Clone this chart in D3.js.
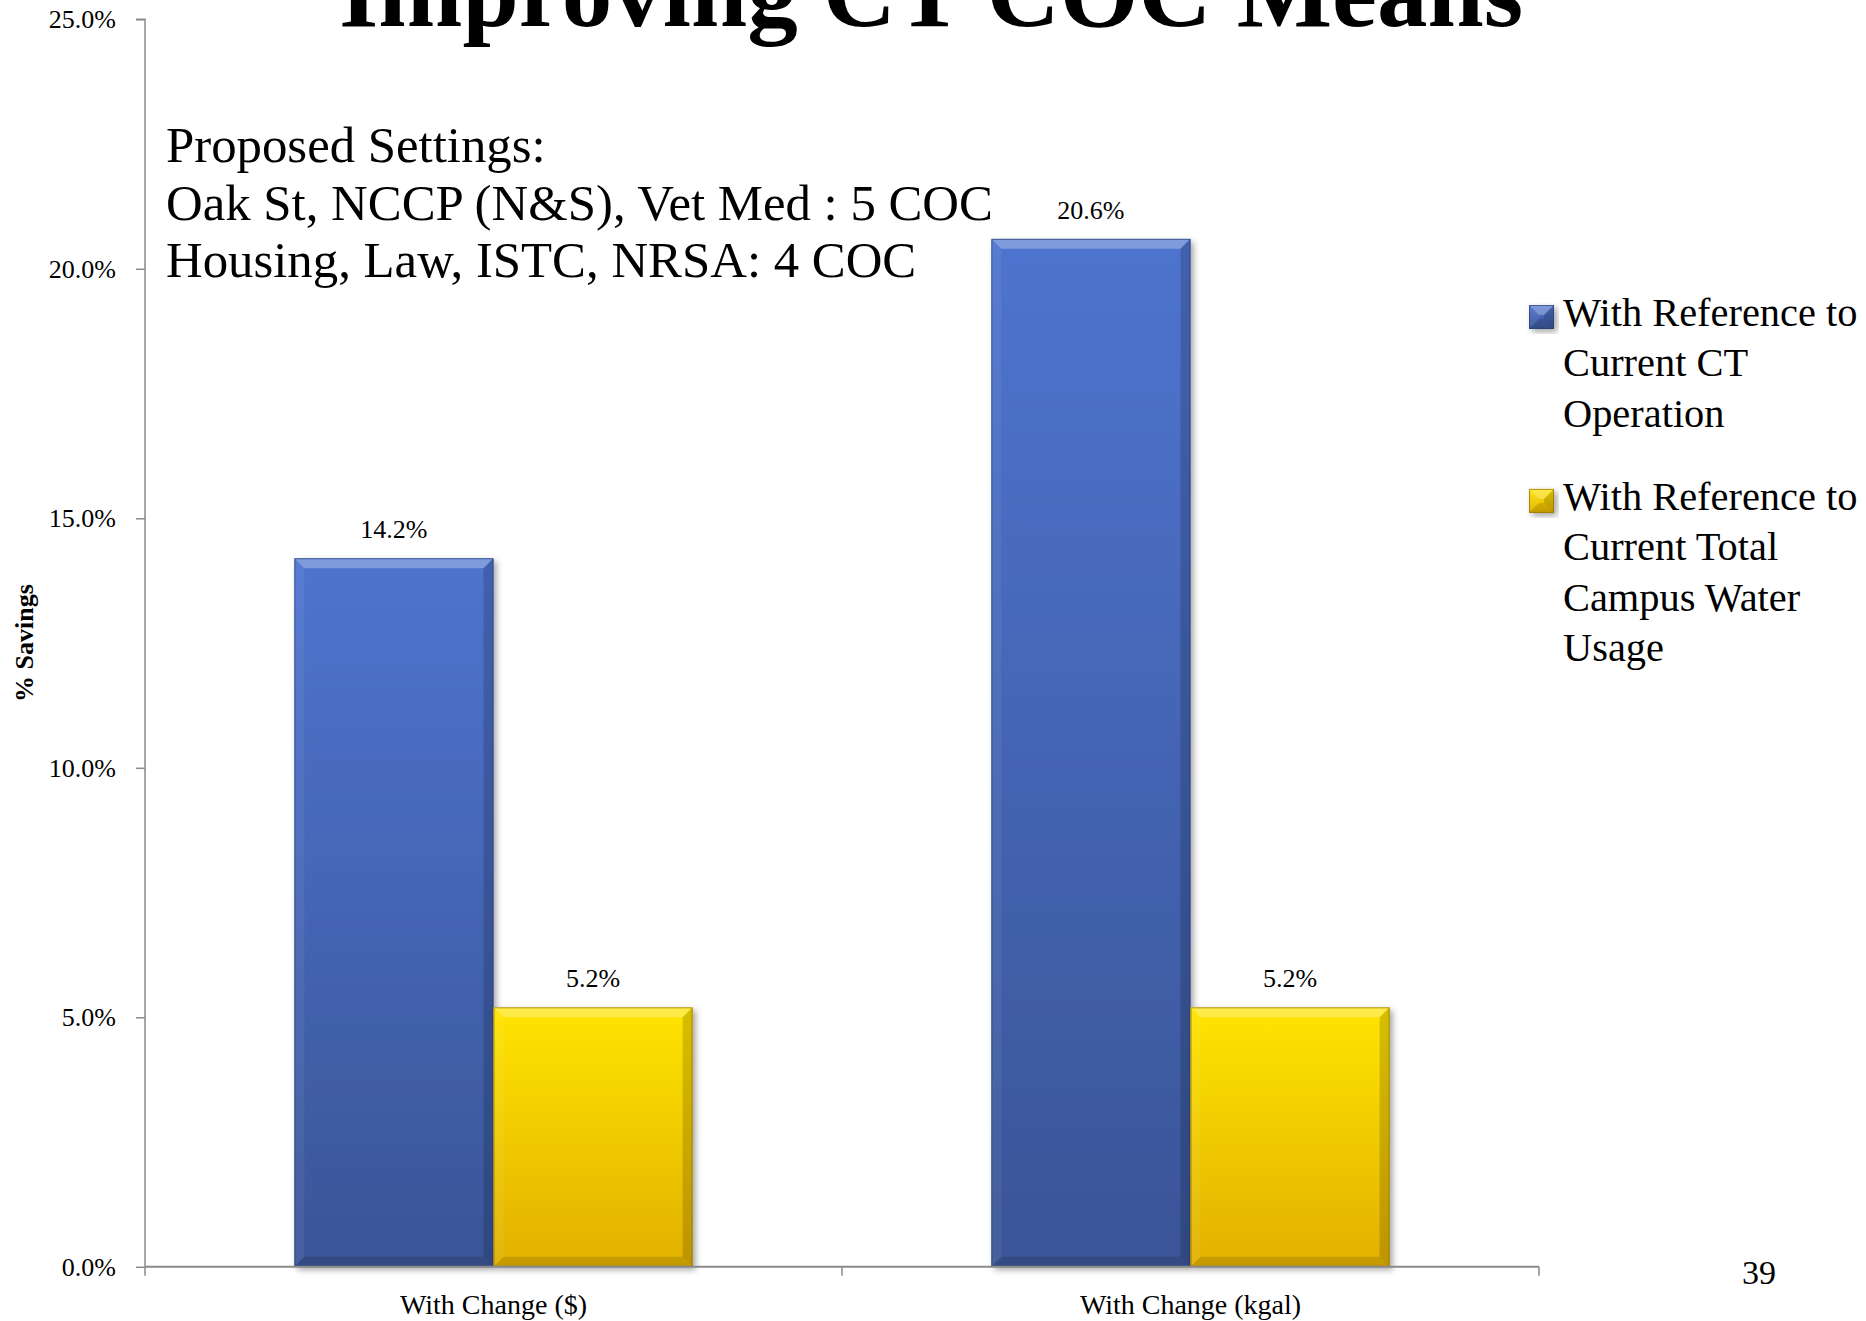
<!DOCTYPE html>
<html>
<head>
<meta charset="utf-8">
<script src="https://cdn.jsdelivr.net/npm/d3@7"></script>
<style>
  html, body { margin: 0; padding: 0; background: #fff; overflow: hidden; }
  svg { display: block; }
  text { font-family: "Liberation Serif", "Times New Roman", serif; fill: #000; }
</style>
</head>
<body>
<svg id="chart" width="1866" height="1321"></svg>
<script>
// ---- data ----
const categories = ["With Change ($)", "With Change (kgal)"];
const seriesNames = ["With Reference to Current CT Operation",
                     "With Reference to Current Total Campus Water Usage"];
const ctOperationSavings = [14.2, 20.6];
const campusWaterSavings = [5.2, 5.2];
const yTickValues = [0, 5, 10, 15, 20, 25];
const legendLines = [
  ["With Reference to", "Current CT", "Operation"],
  ["With Reference to", "Current Total", "Campus Water", "Usage"]
];
const noteLines = ["Proposed Settings:",
                   "Oak St, NCCP (N&S), Vet Med : 5 COC",
                   "Housing, Law, ISTC, NRSA: 4 COC"];
const titleText = "Improving CT COC Means";
const yAxisTitle = "% Savings";
const pageNumber = "39";

const seriesValues = [ctOperationSavings, campusWaterSavings];
const palettes = [
  { top: "#4e74cf", bottom: "#3a5597", edge: "#2a407c" },
  { top: "#ffe400", bottom: "#e1b004", edge: "#8f6f00" }
];

const svg = d3.select("#chart");
const plot = { left: 145, right: 1539, top: 19.3, bottom: 1266.8 };

// ---- defs: gradients and shadow ----
const defs = svg.append("defs");
palettes.forEach((p, i) => {
  const g = defs.append("linearGradient").attr("id", "grad" + i)
    .attr("x1", 0).attr("y1", 0).attr("x2", 0).attr("y2", 1);
  g.append("stop").attr("offset", "0%").attr("stop-color", p.top);
  g.append("stop").attr("offset", "100%").attr("stop-color", p.bottom);
});
const f = defs.append("filter").attr("id", "shadow")
  .attr("x", "-10%").attr("y", "-10%").attr("width", "130%").attr("height", "130%");
f.append("feDropShadow").attr("dx", 3).attr("dy", 3).attr("stdDeviation", 3)
  .attr("flood-color", "#000").attr("flood-opacity", 0.35);

// ---- scales ----
const y = d3.scaleLinear().domain([0, 25]).range([plot.bottom, plot.top]);
const x0 = d3.scaleBand().domain(categories).range([plot.left, plot.right])
  .paddingInner(0).paddingOuter(0);
const x1 = d3.scaleBand().domain(d3.range(seriesNames.length))
  .range([0, x0.bandwidth()]).paddingInner(0).paddingOuter(0.75);

// ---- title (runs off the top edge) ----
svg.append("text")
  .attr("x", 339).attr("y", 26)
  .attr("textLength", 1184).attr("lengthAdjust", "spacingAndGlyphs")
  .style("font-size", "100px").style("font-weight", "bold")
  .text(titleText);

// ---- bevelled bar drawing ----
function bevelBar(g, bx, by, bw, bh, si) {
  const p = palettes[si];
  const d = Math.min(10, bw / 2, bh / 2);
  const grp = g.append("g");
  grp.append("rect").attr("x", bx).attr("y", by).attr("width", bw).attr("height", bh)
    .attr("fill", `url(#grad${si})`).attr("filter", "url(#shadow)");
  const poly = (pts, fill, op) => grp.append("polygon")
    .attr("points", pts.map(q => q.join(",")).join(" "))
    .attr("fill", fill).attr("fill-opacity", op);
  poly([[bx, by], [bx + bw, by], [bx + bw - d, by + d], [bx + d, by + d]], "#fff", 0.28);
  poly([[bx, by], [bx + d, by + d], [bx + d, by + bh - d], [bx, by + bh]], "#fff", 0.06);
  poly([[bx + bw, by], [bx + bw, by + bh], [bx + bw - d, by + bh - d], [bx + bw - d, by + d]], "#000", 0.16);
  poly([[bx, by + bh], [bx + d, by + bh - d], [bx + bw - d, by + bh - d], [bx + bw, by + bh]], "#000", 0.12);
  grp.append("rect").attr("x", bx + 0.5).attr("y", by + 0.5)
    .attr("width", bw - 1).attr("height", bh - 1)
    .attr("fill", "none").attr("stroke", p.edge).attr("stroke-opacity", 0.7).attr("stroke-width", 1);
}

// ---- bars and value labels ----
const barsG = svg.append("g");
categories.forEach((cat, ci) => {
  seriesValues.forEach((vals, si) => {
    const v = vals[ci];
    const bx = x0(cat) + x1(si);
    const bw = x1.bandwidth();
    const by = y(v);
    bevelBar(barsG, bx, by, bw, y(0) - by, si);
    svg.append("text")
      .attr("x", bx + bw / 2).attr("y", by - 20)
      .attr("text-anchor", "middle")
      .style("font-size", "26px")
      .text(v.toFixed(1) + "%");
  });
});

// ---- axes ----
const axisColor = "#8a8a8a";
const yAxis = svg.append("g").attr("transform", `translate(${plot.left},0)`)
  .call(d3.axisLeft(y).tickValues(yTickValues).tickSize(9).tickPadding(20)
    .tickFormat(d => d.toFixed(1) + "%"));
yAxis.select(".domain").attr("stroke", axisColor).attr("stroke-width", 1.5)
  .attr("d", `M-9,${plot.top}H0V${plot.bottom}`);
yAxis.selectAll(".tick line").attr("stroke", axisColor).attr("stroke-width", 1.5);
yAxis.selectAll(".tick text")
  .style("font-family", '"Liberation Serif", serif').style("font-size", "26px").attr("fill", "#000");

const xAxis = svg.append("g").attr("transform", `translate(0,${plot.bottom})`)
  .call(d3.axisBottom(x0).tickSize(0).tickPadding(27));
xAxis.select(".domain").attr("stroke", axisColor).attr("stroke-width", 2)
  .attr("d", `M${plot.left},0H${plot.right}`);
xAxis.selectAll(".tick text")
  .style("font-family", '"Liberation Serif", serif').style("font-size", "28px").attr("fill", "#000");
// category boundary ticks
const bounds = [plot.left].concat(categories.map(c => x0(c) + x0.bandwidth()));
xAxis.selectAll(".bound").data(bounds).enter().append("line")
  .attr("x1", d => d).attr("x2", d => d).attr("y1", 0).attr("y2", 9)
  .attr("stroke", axisColor).attr("stroke-width", 1.5);

// ---- y axis title ----
svg.append("text")
  .attr("transform", `translate(33,${(plot.top + plot.bottom) / 2}) rotate(-90)`)
  .attr("text-anchor", "middle")
  .style("font-size", "26px").style("font-weight", "bold")
  .text(yAxisTitle);

// ---- settings note ----
svg.append("g").selectAll("text").data(noteLines).enter().append("text")
  .attr("x", 166).attr("y", (d, i) => 162 + i * 57.5)
  .style("font-size", "50.8px")
  .text(d => d);

// ---- legend ----
const legend = svg.append("g");
let baseY = 326;
legendLines.forEach((lines, si) => {
  const markerTop = baseY - 21;
  const mg = legend.append("g");
  bevelBar(mg, 1529, markerTop, 25, 24, si);
  lines.forEach((ln, li) => {
    legend.append("text").attr("x", 1563).attr("y", baseY + li * 50.3)
      .style("font-size", "40.4px").text(ln);
  });
  baseY += lines.length * 50.3 + 33;
});

// ---- page number ----
svg.append("text").attr("x", 1759).attr("y", 1284)
  .attr("text-anchor", "middle")
  .style("font-size", "34px").attr("fill", "#8c8c8c")
  .text(pageNumber);
</script>
</body>
</html>
